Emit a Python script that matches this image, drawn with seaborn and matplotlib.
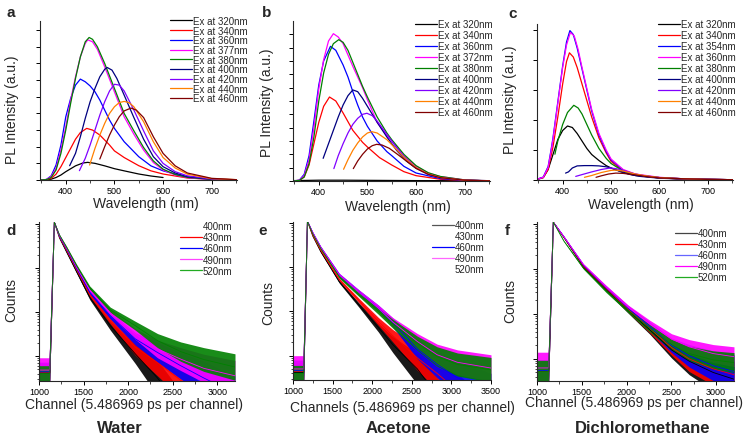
import numpy as np
import pandas as pd
import matplotlib
matplotlib.use("Agg")
import matplotlib.pyplot as plt
import seaborn as sns
from matplotlib.lines import Line2D
from matplotlib.ticker import MultipleLocator, NullFormatter

# ---------------- data ----------------
# PL spectra: label -> (wavelength nm, intensity a.u.)
A_SPECTRA = {
    "Ex at 320nm": ([350, 360, 370, 380, 390, 400, 420, 435, 445, 460, 480, 500, 520, 550, 575, 600],
                    [0, 0.01, 0.05, 0.15, 0.3, 0.5, 0.85, 1.02, 1.06, 1.0, 0.85, 0.68, 0.55, 0.36, 0.24, 0.15]),
    "Ex at 340nm": ([347, 360, 370, 380, 390, 400, 410, 420, 430, 443, 455, 470, 490, 500, 520, 550, 575, 600, 650, 700, 751],
                    [0, 0.02, 0.1, 0.35, 0.8, 1.35, 1.9, 2.45, 2.85, 3.1, 3.0, 2.7, 2.1, 1.75, 1.35, 0.86, 0.55, 0.36, 0.12, 0.04, 0.02]),
    "Ex at 360nm": ([347, 360, 370, 380, 390, 400, 410, 420, 430, 440, 450, 460, 470, 480, 490, 500, 520, 540, 550, 575, 600, 650, 700, 751],
                    [0, 0.03, 0.25, 0.9, 2.1, 3.8, 4.9, 5.7, 6.06, 5.9, 5.65, 5.3, 4.8, 4.2, 3.6, 3.1, 2.3, 1.7, 1.4, 0.85, 0.55, 0.16, 0.04, 0.01]),
    "Ex at 377nm": ([347, 360, 370, 380, 390, 400, 410, 420, 430, 440, 445, 455, 465, 480, 500, 520, 540, 560, 580, 600, 625, 650, 700, 751],
                    [0, 0.03, 0.2, 0.7, 1.8, 3.2, 4.8, 6.2, 7.4, 8.2, 8.42, 8.3, 7.85, 6.8, 5.3, 3.8, 2.75, 1.8, 1.05, 0.6, 0.3, 0.14, 0.03, 0]),
    "Ex at 380nm": ([347, 360, 370, 380, 390, 400, 410, 420, 430, 440, 448, 455, 465, 480, 500, 520, 540, 560, 580, 600, 625, 650, 700, 751],
                    [0, 0.02, 0.15, 0.6, 1.6, 3.0, 4.6, 6.1, 7.4, 8.3, 8.56, 8.45, 8.0, 7.0, 5.5, 4.0, 2.95, 1.95, 1.15, 0.65, 0.33, 0.16, 0.04, 0.01]),
    "Ex at 400nm": ([408, 420, 430, 440, 450, 460, 470, 480, 485, 495, 505, 520, 540, 560, 580, 600, 625, 650, 700, 751],
                    [0.86, 1.6, 2.6, 3.7, 4.7, 5.5, 6.2, 6.65, 6.76, 6.6, 6.1, 5.1, 3.75, 2.45, 1.4, 0.8, 0.42, 0.2, 0.05, 0.01]),
    "Ex at 420nm": ([428, 440, 450, 460, 470, 480, 490, 500, 510, 520, 540, 560, 580, 600, 625, 650, 700, 751],
                    [0.56, 1.3, 2.1, 3.0, 3.9, 4.7, 5.35, 5.75, 5.7, 5.35, 4.2, 2.95, 1.75, 1.0, 0.5, 0.25, 0.06, 0.01]),
    "Ex at 440nm": ([449, 460, 470, 480, 490, 500, 510, 520, 530, 540, 560, 580, 600, 625, 650, 700, 751],
                    [0.9, 1.9, 2.7, 3.4, 4.0, 4.4, 4.65, 4.72, 4.65, 4.4, 3.5, 2.3, 1.35, 0.72, 0.35, 0.08, 0.02]),
    "Ex at 460nm": ([470, 480, 490, 500, 510, 520, 534, 545, 560, 580, 600, 625, 650, 700, 751],
                    [1.26, 2.0, 2.7, 3.3, 3.8, 4.15, 4.32, 4.2, 3.75, 2.6, 1.6, 0.85, 0.42, 0.1, 0.02]),
}

B_SPECTRA = {
    "Ex at 320nm": ([347, 400, 450, 500, 600, 752], [0.03, 0.06, 0.06, 0.05, 0.03, 0.02]),
    "Ex at 340nm": ([347, 360, 370, 380, 390, 400, 410, 422, 435, 450, 470, 490, 500, 525, 550, 575, 600, 650, 700, 752],
                    [0, 0.05, 0.3, 1.2, 2.8, 4.4, 5.6, 6.3, 6.0, 5.1, 3.8, 2.9, 2.55, 1.75, 1.2, 0.7, 0.4, 0.13, 0.04, 0.01]),
    "Ex at 360nm": ([347, 360, 370, 380, 390, 400, 410, 424, 435, 450, 460, 470, 480, 490, 500, 520, 540, 550, 575, 600, 650, 700, 752],
                    [0, 0.06, 0.5, 1.9, 4.5, 7.2, 9.0, 10.1, 9.8, 8.7, 7.8, 6.7, 5.7, 4.8, 4.1, 3.0, 2.2, 1.9, 1.1, 0.6, 0.18, 0.05, 0.01]),
    "Ex at 372nm": ([347, 360, 370, 380, 390, 400, 410, 420, 430, 440, 450, 470, 490, 500, 520, 540, 550, 575, 600, 625, 650, 700, 752],
                    [0, 0.05, 0.4, 1.6, 4.0, 6.9, 9.1, 10.5, 11.05, 10.8, 10.3, 8.6, 7.0, 6.1, 4.4, 3.4, 3.0, 1.9, 1.1, 0.6, 0.33, 0.08, 0.02]),
    "Ex at 380nm": ([347, 360, 370, 380, 390, 400, 410, 420, 430, 441, 450, 460, 470, 480, 490, 500, 520, 540, 550, 575, 600, 625, 650, 700, 752],
                    [0, 0.04, 0.3, 1.3, 3.3, 6.0, 8.1, 9.5, 10.3, 10.6, 10.4, 9.8, 8.9, 8.0, 7.1, 6.3, 4.8, 3.6, 3.1, 2.0, 1.15, 0.62, 0.34, 0.08, 0.02]),
    "Ex at 400nm": ([409, 420, 430, 440, 450, 460, 470, 480, 490, 500, 520, 540, 560, 580, 600, 625, 650, 700, 752],
                    [1.7, 2.8, 3.8, 4.8, 5.7, 6.4, 6.83, 6.7, 6.2, 5.6, 4.4, 3.3, 2.3, 1.5, 0.95, 0.5, 0.25, 0.06, 0.01]),
    "Ex at 420nm": ([431, 440, 450, 460, 470, 480, 490, 499, 510, 520, 540, 560, 580, 600, 625, 650, 700, 752],
                    [0.93, 1.9, 2.8, 3.6, 4.25, 4.7, 5.0, 5.08, 4.9, 4.5, 3.5, 2.5, 1.65, 1.0, 0.5, 0.25, 0.06, 0.01]),
    "Ex at 440nm": ([451, 460, 470, 480, 490, 500, 509, 520, 540, 560, 580, 600, 625, 650, 700, 752],
                    [0.88, 1.6, 2.3, 2.85, 3.3, 3.6, 3.7, 3.6, 3.1, 2.35, 1.6, 1.0, 0.52, 0.26, 0.06, 0.01]),
    "Ex at 460nm": ([471, 480, 490, 500, 510, 519, 530, 545, 560, 580, 600, 625, 650, 700, 752],
                    [0.93, 1.5, 2.0, 2.4, 2.65, 2.75, 2.7, 2.45, 2.05, 1.5, 0.95, 0.5, 0.25, 0.06, 0.01]),
}

C_SPECTRA = {
    "Ex at 320nm": ([350, 360, 370, 383, 390, 400, 410, 420, 430, 440, 450, 460, 475, 490, 500, 525, 550, 600, 650, 700, 752],
                    [0.03, 0.08, 0.35, 1.0, 1.35, 1.65, 1.8, 1.75, 1.55, 1.3, 1.05, 0.85, 0.65, 0.48, 0.4, 0.25, 0.15, 0.07, 0.03, 0.02, 0.01]),
    "Ex at 340nm": ([348, 360, 370, 380, 390, 400, 408, 414, 422, 430, 440, 450, 460, 475, 490, 500, 525, 550, 600, 650, 700, 752],
                    [0.03, 0.08, 0.35, 1.1, 2.1, 3.2, 3.95, 4.24, 4.1, 3.75, 3.2, 2.65, 2.1, 1.4, 0.9, 0.62, 0.3, 0.17, 0.07, 0.03, 0.02, 0.01]),
    "Ex at 354nm": ([348, 360, 370, 376, 380, 390, 400, 408, 415, 422, 430, 440, 450, 460, 475, 490, 500, 525, 550, 600, 650, 700, 752],
                    [0.03, 0.1, 0.45, 1.0, 1.4, 2.6, 3.8, 4.6, 4.98, 4.85, 4.4, 3.7, 3.0, 2.3, 1.5, 0.95, 0.67, 0.33, 0.18, 0.08, 0.04, 0.02, 0.01]),
    "Ex at 360nm": ([348, 360, 370, 376, 380, 390, 400, 408, 416, 424, 432, 440, 450, 460, 475, 490, 500, 525, 550, 600, 650, 700, 752],
                    [0.03, 0.09, 0.42, 0.95, 1.35, 2.55, 3.75, 4.5, 4.92, 4.8, 4.35, 3.75, 3.05, 2.35, 1.55, 1.0, 0.7, 0.35, 0.2, 0.09, 0.04, 0.02, 0.01]),
    "Ex at 380nm": ([384, 390, 400, 410, 423, 432, 440, 450, 460, 475, 490, 500, 525, 550, 600, 650, 700, 752],
                    [0.86, 1.3, 1.85, 2.25, 2.49, 2.4, 2.2, 1.85, 1.5, 1.05, 0.72, 0.55, 0.3, 0.17, 0.08, 0.04, 0.02, 0.01]),
    "Ex at 400nm": ([406, 412, 420, 430, 445, 460, 475, 490, 500, 520, 540, 560, 600, 650, 700, 752],
                    [0.23, 0.27, 0.4, 0.47, 0.48, 0.48, 0.47, 0.44, 0.4, 0.28, 0.18, 0.12, 0.06, 0.03, 0.02, 0.01]),
    "Ex at 420nm": ([427, 440, 460, 480, 498, 510, 525, 550, 575, 600, 650, 700, 752],
                    [0.12, 0.18, 0.27, 0.35, 0.4, 0.38, 0.32, 0.2, 0.12, 0.08, 0.04, 0.02, 0.01]),
    "Ex at 440nm": ([445, 460, 480, 500, 510, 525, 550, 575, 600, 650, 700, 752],
                    [0.09, 0.15, 0.25, 0.32, 0.33, 0.3, 0.2, 0.13, 0.08, 0.04, 0.02, 0.01]),
    "Ex at 460nm": ([469, 480, 495, 510, 525, 550, 575, 600, 650, 700, 752],
                    [0.09, 0.14, 0.2, 0.23, 0.22, 0.17, 0.11, 0.07, 0.04, 0.02, 0.01]),
}

SPEC_COLORS = ["#000000", "#ff0000", "#0000ff", "#ff00ff", "#008000",
               "#000080", "#8000ff", "#ff8000", "#800000"]

# Decay curves: log10(counts) at channel positions, plus noise half-width (decades)
DECAY_LABELS = ["400nm", "430nm", "460nm", "490nm", "520nm"]
DECAY_COLORS = ["#000000", "#ff0000", "#0000ff", "#ff00ff", "#008000"]

D_CH = [1000, 1120, 1172, 1230, 1310, 1420, 1570, 1800, 2080, 2330, 2590, 2850, 3200]
D_LOG = {
    "400nm": [0.62, 0.62, 4.04, 3.68, 3.36, 2.92, 2.33, 1.69, 1.05, 0.5, -0.2, -0.5, -0.5],
    "430nm": [0.62, 0.62, 4.04, 3.70, 3.40, 2.97, 2.40, 1.82, 1.20, 0.85, 0.45, -0.1, -0.5],
    "460nm": [0.64, 0.64, 4.04, 3.72, 3.43, 3.00, 2.45, 1.92, 1.39, 1.08, 0.78, 0.5, 0.15],
    "490nm": [0.68, 0.68, 4.04, 3.74, 3.45, 3.03, 2.50, 1.98, 1.50, 1.16, 0.93, 0.72, 0.55],
    "520nm": [0.60, 0.60, 4.04, 3.75, 3.47, 3.06, 2.55, 2.05, 1.69, 1.35, 1.10, 0.92, 0.75],
}
D_NOISE = {
    "400nm": [0.2, 0.2, 0.01, 0.01, 0.02, 0.03, 0.05, 0.1, 0.22, 0.4, 0.4, 0.4, 0.4],
    "430nm": [0.2, 0.2, 0.01, 0.01, 0.02, 0.03, 0.05, 0.09, 0.18, 0.3, 0.4, 0.4, 0.4],
    "460nm": [0.22, 0.22, 0.01, 0.01, 0.02, 0.03, 0.05, 0.08, 0.14, 0.22, 0.3, 0.38, 0.4],
    "490nm": [0.28, 0.28, 0.01, 0.01, 0.02, 0.03, 0.05, 0.07, 0.12, 0.2, 0.26, 0.32, 0.35],
    "520nm": [0.18, 0.18, 0.01, 0.01, 0.02, 0.03, 0.04, 0.06, 0.1, 0.16, 0.22, 0.27, 0.3],
}

E_CH = [1000, 1135, 1182, 1250, 1350, 1584, 1830, 2080, 2260, 2570, 2820, 3077, 3500]
E_LOG = {
    "400nm": [0.62, 0.62, 4.04, 3.70, 3.35, 2.67, 2.15, 1.63, 1.25, 0.7, 0.1, -0.5, -0.5],
    "430nm": [0.64, 0.64, 4.04, 3.72, 3.38, 2.72, 2.25, 1.77, 1.45, 0.95, 0.6, 0.2, -0.5],
    "460nm": [0.66, 0.66, 4.04, 3.78, 3.45, 2.83, 2.45, 2.07, 1.75, 1.15, 0.8, 0.5, 0.2],
    "490nm": [0.70, 0.70, 4.04, 3.78, 3.45, 2.83, 2.45, 2.07, 1.76, 1.32, 1.02, 0.85, 0.72],
    "520nm": [0.60, 0.60, 4.04, 3.75, 3.42, 2.78, 2.38, 2.0, 1.72, 1.28, 0.98, 0.8, 0.68],
}
E_NOISE = {
    "400nm": [0.2, 0.2, 0.01, 0.01, 0.02, 0.03, 0.05, 0.1, 0.18, 0.35, 0.4, 0.4, 0.4],
    "430nm": [0.2, 0.2, 0.01, 0.01, 0.02, 0.03, 0.05, 0.09, 0.14, 0.28, 0.38, 0.4, 0.4],
    "460nm": [0.24, 0.24, 0.01, 0.01, 0.02, 0.03, 0.04, 0.07, 0.1, 0.22, 0.3, 0.38, 0.4],
    "490nm": [0.3, 0.3, 0.01, 0.01, 0.02, 0.03, 0.04, 0.07, 0.1, 0.18, 0.24, 0.28, 0.3],
    "520nm": [0.18, 0.18, 0.01, 0.01, 0.02, 0.03, 0.04, 0.07, 0.1, 0.16, 0.22, 0.26, 0.28],
}

F_CH = [1000, 1130, 1182, 1300, 1517, 1770, 2017, 2260, 2503, 2700, 2967, 3200]
F_LOG = {
    "400nm": [0.72, 0.72, 4.04, 3.70, 3.05, 2.55, 2.08, 1.65, 1.2, 0.95, 0.7, 0.55],
    "430nm": [0.72, 0.72, 4.04, 3.71, 3.07, 2.57, 2.10, 1.68, 1.25, 1.0, 0.78, 0.65],
    "460nm": [0.74, 0.74, 4.04, 3.72, 3.09, 2.59, 2.13, 1.72, 1.3, 1.07, 0.85, 0.72],
    "490nm": [0.80, 0.80, 4.04, 3.72, 3.10, 2.60, 2.15, 1.78, 1.44, 1.27, 1.12, 1.05],
    "520nm": [0.72, 0.72, 4.04, 3.62, 3.02, 2.52, 2.08, 1.68, 1.32, 1.12, 0.98, 0.92],
}
F_NOISE = {
    "400nm": [0.22, 0.22, 0.01, 0.01, 0.02, 0.04, 0.06, 0.1, 0.18, 0.3, 0.4, 0.4],
    "430nm": [0.22, 0.22, 0.01, 0.01, 0.02, 0.04, 0.06, 0.1, 0.17, 0.28, 0.36, 0.4],
    "460nm": [0.24, 0.24, 0.01, 0.01, 0.02, 0.04, 0.06, 0.1, 0.16, 0.25, 0.33, 0.38],
    "490nm": [0.35, 0.35, 0.01, 0.01, 0.02, 0.04, 0.05, 0.08, 0.12, 0.16, 0.2, 0.22],
    "520nm": [0.25, 0.25, 0.01, 0.01, 0.02, 0.04, 0.05, 0.08, 0.12, 0.16, 0.2, 0.22],
}

# legend line colours as printed in the original (some entries show no line)
D_LEG_COLORS = ["none", "#ff0000", "#0000ff", "#ff44ff", "#22aa22"]
E_LEG_COLORS = ["#555555", "none", "#0000ff", "#ff66ff", "none"]
F_LEG_COLORS = ["#444444", "#ff0000", "#6666ff", "#ff00ff", "#22aa22"]

# ---------------- figure ----------------
sns.set_style("ticks")
plt.rcParams["font.family"] = ["Liberation Sans", "DejaVu Sans"]
plt.rcParams["axes.linewidth"] = 0.8

W, H = 752, 439
fig = plt.figure(figsize=(W / 100, H / 100), dpi=100)


def px_axes(l, r, t, b):
    return fig.add_axes([l / W, 1 - b / H, (r - l) / W, (b - t) / H])


def fxy(x, y):
    return x / W, 1 - y / H


def style_axes(ax):
    sns.despine(ax=ax)
    ax.tick_params(which="major", direction="out", length=3, width=0.7, labelsize=6.5, pad=1.0, colors="black")
    ax.tick_params(which="minor", direction="out", length=1.8, width=0.6)


def spectra_panel(ax, spectra, ylim, legend_xy, spacing):
    rows = []
    for label, (nm, inten) in spectra.items():
        rows += [(label, w, v) for w, v in zip(nm, inten)]
    df = pd.DataFrame(rows, columns=["label", "nm", "I"])
    sns.lineplot(data=df, x="nm", y="I", hue="label", hue_order=list(spectra),
                 palette=SPEC_COLORS, estimator=None, sort=False, lw=0.9, ax=ax)
    ax.set_xlim(347, 752)
    ax.set_ylim(*ylim)
    ax.set_xticks([400, 500, 600, 700])
    ax.xaxis.set_minor_locator(MultipleLocator(50))
    ax.set_yticks(np.arange(0, ylim[1], 1.0))
    ax.set_yticklabels([])
    ax.set_xlabel("")
    ax.set_ylabel("")
    style_axes(ax)
    h, l = ax.get_legend_handles_labels()
    ax.legend(h, l, loc="upper left", bbox_to_anchor=fxy(*legend_xy), bbox_transform=fig.transFigure,
              frameon=False, fontsize=7, handlelength=2.26, handletextpad=0.15,
              labelspacing=spacing, borderpad=0, borderaxespad=0)


def decay_panel(ax, ch, logs, noise, xlim, ylog, leg_colors, legend_xy, spacing):
    ch = np.array(ch, dtype=float)
    for lab, col in zip(DECAY_LABELS, DECAY_COLORS):
        c = np.array(logs[lab])
        n = np.array(noise[lab])
        ax.fill_between(ch, 10 ** (c - n), 10 ** (c + n), color=col, lw=0, alpha=0.9)
        sns.lineplot(x=ch, y=10 ** c, color=col, lw=0.6, estimator=None, ax=ax)
    ax.set_yscale("log")
    ax.set_xlim(*xlim)
    ax.set_ylim(10 ** ylog[0], 10 ** ylog[1])
    ax.xaxis.set_major_locator(MultipleLocator(500))
    ax.xaxis.set_minor_locator(MultipleLocator(250))
    ax.yaxis.set_major_formatter(NullFormatter())
    ax.yaxis.set_minor_formatter(NullFormatter())
    style_axes(ax)
    handles = [Line2D([], [], color=c, lw=0.9) for c in leg_colors]
    ax.legend(handles, DECAY_LABELS, loc="upper left", bbox_to_anchor=fxy(*legend_xy),
              bbox_transform=fig.transFigure, frameon=False, fontsize=7,
              handlelength=2.26, handletextpad=0.1, labelspacing=spacing,
              borderpad=0, borderaxespad=0)


ax_a = px_axes(40, 237, 22, 181)
ax_b = px_axes(293, 490, 22, 182)
ax_c = px_axes(537, 733, 25, 181)
ax_d = px_axes(39, 235, 223, 382)
ax_e = px_axes(293, 491, 223, 381)
ax_f = px_axes(537, 734, 223, 382)

spectra_panel(ax_a, A_SPECTRA, (0, 9.55), (170, 16.8), -0.03)
spectra_panel(ax_b, B_SPECTRA, (0, 12.0), (415, 20.4), 0.1)
spectra_panel(ax_c, C_SPECTRA, (0, 5.2), (658, 20.4), 0.1)

decay_panel(ax_d, D_CH, D_LOG, D_NOISE, (1000, 3200), (0.432, 4.045), D_LEG_COLORS, (180, 222.1), 0.12)
decay_panel(ax_e, E_CH, E_LOG, E_NOISE, (1000, 3500), (0.45, 4.02), E_LEG_COLORS, (431.7, 221.4), 0.1)
decay_panel(ax_f, F_CH, F_LOG, F_NOISE, (1000, 3200), (0.51, 4.044), F_LEG_COLORS, (675, 229.4), 0.1)

# axis labels, panel letters and solvent names placed at their pixel positions
for x, y in [(11.7, 110), (266.7, 103), (510, 100)]:
    fig.text(*fxy(x, y), "PL Intensity (a.u.)", rotation=90, ha="center", va="center", fontsize=10)
for x, y in [(11.7, 300), (268, 303), (510, 300.7)]:
    fig.text(*fxy(x, y), "Counts", rotation=90, ha="center", va="center", fontsize=10)
for x, y in [(146, 204.5), (397.5, 207), (640.5, 205.5)]:
    fig.text(*fxy(x, y), "Wavelength (nm)", ha="center", va="center", fontsize=10)
fig.text(*fxy(134, 405), "Channel (5.486969 ps per channel)", ha="center", va="center", fontsize=10)
fig.text(*fxy(402, 408), "Channels (5.486969 ps per channel)", ha="center", va="center", fontsize=10)
fig.text(*fxy(634, 403.5), "Channel (5.486969 ps per channel)", ha="center", va="center", fontsize=10)

for x, name in [(120, "Water"), (398.7, "Acetone"), (642.3, "Dichloromethane")]:
    fig.text(*fxy(x, 433.3), name, ha="center", va="baseline", fontsize=12, fontweight="bold")

for x, y, letter in [(6.7, 16.7, "a"), (261.7, 16.7, "b"), (508.3, 18.3, "c"),
                     (6.7, 235, "d"), (258.3, 235, "e"), (505, 235, "f")]:
    fig.text(*fxy(x, y), letter, ha="left", va="baseline", fontsize=11, fontweight="bold")

fig.savefig("out.png", dpi=100)
